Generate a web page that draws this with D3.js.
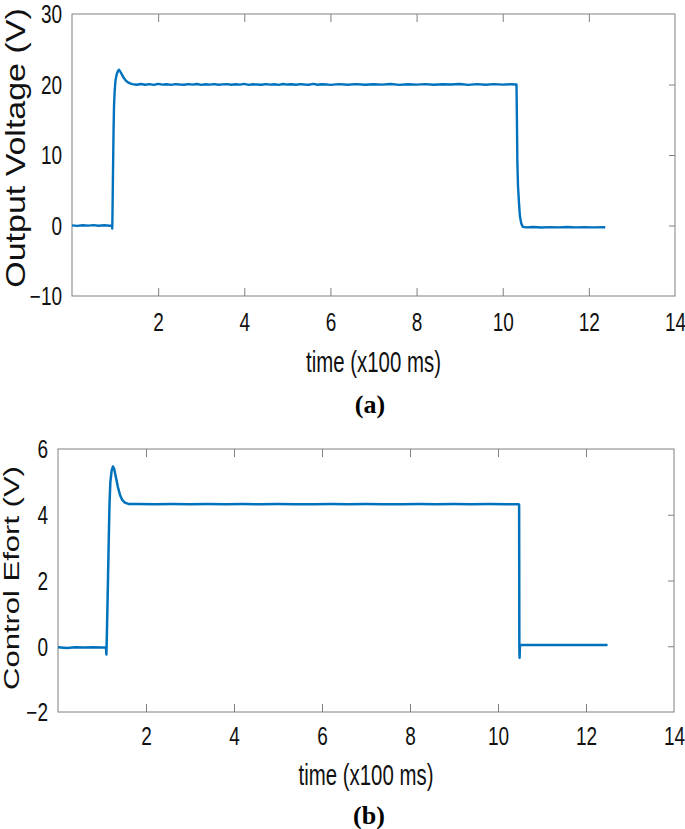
<!DOCTYPE html>
<html>
<head>
<meta charset="utf-8">
<script src="https://cdnjs.cloudflare.com/ajax/libs/d3/7.8.5/d3.min.js"></script>
<style>
  body { margin: 0; background: #fff; }
  svg { display: block; }
</style>
</head>
<body>
<div class="chart"></div>
<script>
// time in x100 ms
var timeTicks = [2, 4, 6, 8, 10, 12, 14];
var voltTicks = [-10, 0, 10, 20, 30];
var effortTicks = [-2, 0, 2, 4, 6];

// (a) output voltage, [time, V]
var outputVoltage = [
  [0.00, 0.02], [0.12, -0.05], [0.25, 0.04], [0.38, -0.02], [0.50, 0.05], [0.62, -0.04],
  [0.75, 0.03], [0.88, -0.03], [0.93, 0.0], [0.935, -0.45], [0.945, 4.0], [0.955, 9.0],
  [0.965, 13.5], [0.975, 16.8], [0.99, 19.0], [1.01, 20.6], [1.04, 21.5], [1.07, 21.95],
  [1.09, 22.1], [1.12, 21.85], [1.16, 21.4], [1.20, 20.95], [1.25, 20.55], [1.30, 20.3],
  [1.35, 20.15], [1.40, 20.05],
  [1.5, 19.96], [1.6, 20.07], [1.7, 19.97], [1.8, 20.05], [1.9, 19.95], [2.0, 20.08],
  [2.1, 19.98], [2.2, 20.04], [2.3, 19.94], [2.4, 20.06], [2.5, 20.0], [2.6, 19.96],
  [2.7, 20.05], [2.8, 19.98], [2.9, 20.07], [3.0, 19.95], [3.1, 20.03], [3.2, 19.98],
  [3.3, 20.06], [3.4, 19.96], [3.5, 20.02], [3.6, 20.05], [3.7, 19.97], [3.8, 20.04],
  [3.9, 19.99], [4.0, 20.08], [4.1, 19.95], [4.2, 20.03], [4.3, 20.0], [4.4, 19.96],
  [4.5, 20.06], [4.6, 19.98], [4.7, 20.04], [4.8, 19.95], [4.9, 20.07], [5.0, 19.99],
  [5.1, 20.03], [5.2, 19.96], [5.3, 20.05], [5.4, 20.0], [5.5, 19.97], [5.6, 20.08],
  [5.7, 19.96], [5.8, 20.04], [5.9, 20.01], [6.0, 19.95], [6.2, 20.06], [6.4, 19.97],
  [6.6, 20.05], [6.8, 19.96], [7.0, 20.04], [7.2, 19.98], [7.4, 20.07], [7.6, 19.95],
  [7.8, 20.03], [8.0, 19.98], [8.2, 20.06], [8.4, 19.96], [8.6, 20.04], [8.8, 19.99],
  [9.0, 20.07], [9.2, 19.95], [9.4, 20.05], [9.6, 19.97], [9.8, 20.06], [10.0, 19.98],
  [10.2, 20.04], [10.3, 20.0],
  [10.32, 20.0], [10.33, 15.0], [10.34, 9.0], [10.355, 5.6], [10.38, 3.0], [10.40, 1.3],
  [10.43, 0.3], [10.47, -0.2], [10.55, -0.26],
  [10.7, -0.22], [10.9, -0.28], [11.1, -0.23], [11.3, -0.27], [11.5, -0.22], [11.7, -0.27],
  [11.9, -0.23], [12.1, -0.27], [12.38, -0.25]
];

// (b) control effort, [time, V]
var controlEffort = [
  [0.0, -0.03], [0.2, -0.05], [0.4, -0.03], [0.6, -0.04], [0.8, -0.03], [1.0, -0.04],
  [1.09, -0.03], [1.10, -0.25], [1.11, 0.3], [1.13, 1.6], [1.15, 3.0], [1.17, 4.3],
  [1.19, 5.0], [1.22, 5.35], [1.25, 5.47], [1.28, 5.38], [1.32, 5.12], [1.36, 4.85],
  [1.41, 4.6], [1.46, 4.45], [1.52, 4.37], [1.60, 4.33],
  [1.8, 4.325], [2.2, 4.32], [2.6, 4.325], [3.0, 4.32], [3.4, 4.325], [3.8, 4.32],
  [4.2, 4.325], [4.6, 4.32], [5.0, 4.325], [5.4, 4.32], [5.8, 4.32], [6.2, 4.325],
  [6.6, 4.32], [7.0, 4.325], [7.4, 4.32], [7.8, 4.32], [8.2, 4.325], [8.6, 4.32],
  [9.0, 4.325], [9.4, 4.32], [9.8, 4.325], [10.2, 4.32], [10.47, 4.32],
  [10.48, 4.3], [10.485, 0.0], [10.49, -0.35], [10.50, 0.04], [10.6, 0.04],
  [10.8, 0.035], [11.1, 0.04], [11.4, 0.035], [11.7, 0.04], [12.0, 0.035], [12.3, 0.04],
  [12.49, 0.04]
];

var svgWidth = 685;
var svgHeight = 829;
var lineColor = "#0072BD";
var boxColor = "#808080";
var tickScale = 0.76;

var svg = d3.select(".chart")
  .append("svg")
  .attr("width", svgWidth)
  .attr("height", svgHeight)
  .style("background", "#fff");

function drawPanel(p) {
  var x = d3.scaleLinear().domain([0, 14]).range([p.left, p.right]);
  var y = d3.scaleLinear().domain(p.yDomain).range([p.bottom, p.top]);
  var g = svg.append("g");

  // inward tick marks, bottom, top and right
  var innerX = timeTicks.filter(d => d < 14);
  var innerY = p.yTicks.slice(1, -1);

  g.append("g")
    .attr("transform", `translate(0, ${p.bottom})`)
    .call(d3.axisBottom(x).tickValues(innerX).tickSize(-8).tickFormat(""));
  g.append("g")
    .attr("transform", `translate(0, ${p.top})`)
    .call(d3.axisTop(x).tickValues(innerX).tickSize(-8).tickFormat(""));
  g.append("g")
    .attr("transform", `translate(${p.right}, 0)`)
    .call(d3.axisRight(y).tickValues(innerY).tickSize(-6).tickFormat(""));
  g.selectAll(".domain").remove();
  g.selectAll(".tick line").attr("stroke", boxColor);

  // tick labels
  var xl = g.append("g")
    .attr("transform", `translate(0, ${p.bottom})`)
    .call(d3.axisBottom(x).tickValues(timeTicks).tickSize(0).tickPadding(p.xPad).tickFormat(d3.format("d")));
  var yl = g.append("g")
    .attr("transform", `translate(${p.left}, 0)`)
    .call(d3.axisLeft(y).tickValues(p.yTicks).tickSize(0).tickFormat(d3.format("d")));
  xl.select(".domain").remove();
  yl.select(".domain").remove();
  g.selectAll(".tick text")
    .attr("font-family", "'Liberation Sans', Arial, sans-serif")
    .attr("font-size", 25)
    .attr("fill", "#111");
  xl.selectAll(".tick text").attr("transform", `scale(${tickScale}, 1)`);
  yl.selectAll(".tick text")
    .attr("x", -10 / tickScale)
    .attr("dy", "0.35em")
    .attr("transform", `scale(${tickScale}, 1)`);

  // the box
  g.append("rect")
    .attr("x", p.left)
    .attr("y", p.top)
    .attr("width", p.right - p.left)
    .attr("height", p.bottom - p.top)
    .attr("fill", "none")
    .attr("stroke", boxColor)
    .attr("stroke-width", 1);

  var line = d3.line()
    .x(d => x(d[0]))
    .y(d => y(d[1]));

  g.append("path")
    .datum(p.data)
    .attr("d", line)
    .attr("fill", "none")
    .attr("stroke", lineColor)
    .attr("stroke-width", p.lineWidth)
    .attr("stroke-linejoin", "round");

  // axis titles
  var cx = (p.left + p.right) / 2;
  g.append("text")
    .attr("transform", `translate(${cx}, ${p.bottom + p.xTitleOffset}) scale(0.68, 1)`)
    .attr("text-anchor", "middle")
    .attr("font-family", "'Liberation Sans', Arial, sans-serif")
    .attr("font-size", 30)
    .attr("fill", "#111")
    .text("time (x100 ms)");

  g.append("text")
    .attr("transform", `translate(${p.yTitleX}, ${p.yTitleY}) rotate(-90) scale(1, ${p.yTitleSquash})`)
    .attr("text-anchor", "middle")
    .attr("font-family", "'Liberation Sans', Arial, sans-serif")
    .attr("font-size", p.yTitleSize)
    .attr("fill", "#111")
    .text(p.yTitle);

  g.append("text")
    .attr("x", p.captionX)
    .attr("y", p.captionY)
    .attr("text-anchor", "middle")
    .attr("font-family", "'Liberation Serif', 'Times New Roman', serif")
    .attr("font-weight", "bold")
    .attr("font-size", 26)
    .attr("fill", "#000")
    .text(p.caption);
}

drawPanel({
  left: 72, right: 675, top: 14, bottom: 296,
  yDomain: [-10, 30], yTicks: voltTicks, data: outputVoltage, lineWidth: 2.4,
  xPad: 17, xTitleOffset: 76,
  yTitle: "Output Voltage (V)", yTitleX: 25, yTitleY: 148, yTitleSize: 34, yTitleSquash: 0.8,
  caption: "(a)", captionX: 370, captionY: 413
});

drawPanel({
  left: 58, right: 674, top: 449, bottom: 712,
  yDomain: [-2, 6], yTicks: effortTicks, data: controlEffort, lineWidth: 2.5,
  xPad: 15, xTitleOffset: 73,
  yTitle: "Control Efort (V)", yTitleX: 19, yTitleY: 578, yTitleSize: 31, yTitleSquash: 0.72,
  caption: "(b)", captionX: 369, captionY: 824
});
</script>
</body>
</html>
